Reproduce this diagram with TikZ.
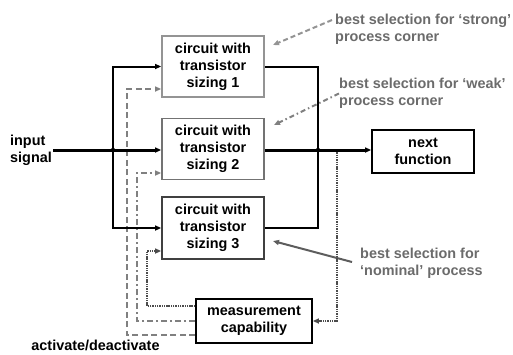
\documentclass[tikz,border=0pt]{standalone}
\usepackage{fontspec}
\setmainfont{Liberation Sans}
\usetikzlibrary{positioning}
\usetikzlibrary{arrows.meta}

\definecolor{boxone}{gray}{0.58}
\definecolor{boxtwo}{gray}{0.45}
\definecolor{boxthree}{gray}{0.25}
\definecolor{notetext}{gray}{0.42}
\definecolor{ctrlgray}{gray}{0.5}
\definecolor{dotgray}{gray}{0.3}

\tikzset{
    block/.style={draw, line width=1.8pt, minimum width=102pt, align=center, inner sep=0pt},
    note/.style={text=notetext, align=left, anchor=west, inner sep=0pt},
    wire/.style={line width=2pt},
    arr/.style={-{Triangle[length=6pt,width=5pt]}},
    ctrldash/.style={ctrlgray, line width=2.5pt, dash pattern=on 6pt off 3.5pt},
    ctrldashdot/.style={ctrlgray, line width=2.5pt, dash pattern=on 6pt off 3pt on 2pt off 3pt},
    ctrldot/.style={dotgray, line width=2.5pt, dash pattern=on 1.4pt off 0.9pt},
    junction/.style={circle, fill, inner sep=0pt, minimum size=4.5pt}
}

\begin{document}
\begin{tikzpicture}[x=1pt, y=-1pt, font=\fontsize{14.4}{17}\selectfont\bfseries]
    \useasboundingbox (0,0) rectangle (513,354);

    % blocks
    \node[block, draw=boxone, minimum height=61pt] (c1) at (213,66.5) {circuit with\\transistor\\sizing 1};
    \node[block, draw=boxtwo, minimum height=61pt] (c2) at (213,149) {circuit with\\transistor\\sizing 2};
    \node[block, draw=boxthree, minimum height=62pt] (c3) at (213,228) {circuit with\\transistor\\sizing 3};
    \node[block, minimum height=43pt] (nf) at (423,151.5) {next\\function};
    \node[block, minimum width=116pt, minimum height=44pt] (meas) at (254,321) {measurement\\capability};

    \node[align=left, inner sep=1pt] (in) at (31,150) {input\\signal};
    \node[inner sep=0pt] (act) at (95.5,345) {activate/deactivate};

    % notes
    \node[note] (ns) at (335,29) {best selection for ‘strong’\\process corner};
    \node[note] (nw) at (339,93.5) {best selection for ‘weak’\\process corner};
    \node[note] (nn) at (360,263.5) {best selection for\\‘nominal’ process};

    \coordinate (ts) at (273,45);
    \coordinate (tw) at (274,125);
    \coordinate (tn) at (273,241);
    \draw[boxone, line width=2pt, dash pattern=on 5pt off 3pt, arr] ([xshift=-3pt, yshift=9pt]ns.west) -- (ts);
    \draw[ctrlgray, line width=2pt, dash pattern=on 5pt off 3pt on 1.5pt off 3pt, arr] (nw.west) -- (tw);
    \draw[boxthree!85, line width=2pt, arr] ([xshift=-8pt, yshift=1.5pt]nn.west) -- (tn);

    % measurement lines
    \coordinate (d1) at (127,89);
    \coordinate (d2) at (137,173);
    \coordinate (d3) at (147,251);
    \coordinate (tap) at (337,150);
    \draw[ctrldash, arr] ([yshift=-14pt]meas.west) -| (d1) -- (c1.west |- d1);
    \draw[ctrldashdot, arr] (meas.west) -| (d2) -- (c2.west |- d2);
    \draw[ctrldot, arr] ([yshift=15pt]meas.west) -| (d3) -- (c3.west |- d3);
    \draw[ctrldot, arr] (tap) |- (meas.east);

    % signal lines
    \coordinate (jin) at (113,150);
    \coordinate (jout) at (318,150);
    \draw[wire, line width=3pt, arr] (in.east |- jin) -- (c2.west |- jin);
    \draw[wire, arr] (jin) |- (c1.west);
    \draw[wire, arr] (jin) |- (c3.west);
    \draw[wire] (c1.east) -| (jout) |- (c3.east);
    \draw[wire, line width=3pt, arr] (c2.east |- jout) -- (nf.west |- jout);
    \node[junction] (jinDot) at (jin) {};
    \node[junction] (joutDot) at (jout) {};
\end{tikzpicture}
\end{document}
